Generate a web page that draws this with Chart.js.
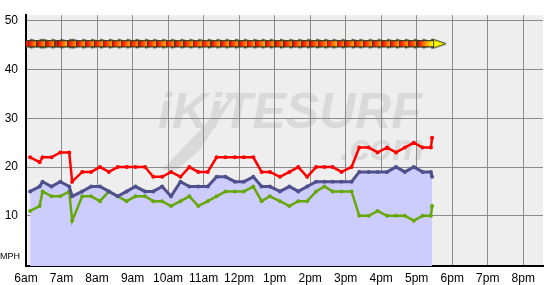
<!DOCTYPE html>
<html>
<head>
<meta charset="utf-8">
<script src="https://cdn.jsdelivr.net/npm/chart.js@4.4.1/dist/chart.umd.min.js"></script>
<style>
  html, body { margin: 0; padding: 0; background: #fff; }
</style>
</head>
<body>
<canvas id="wind" width="550" height="285"></canvas>
<script>
// observation times (local)
const times = ['6:07', '6:23', '6:28', '6:43', '6:58', '7:13', '7:18', '7:35', '7:50', '8:05',
  '8:20', '8:35', '8:50', '9:05', '9:21', '9:35', '9:50', '10:05', '10:21', '10:36',
  '10:51', '11:07', '11:22', '11:37', '11:53', '12:08', '12:24', '12:38', '12:52', '13:09',
  '13:25', '13:40', '13:55', '14:10', '14:24', '14:38', '14:53', '15:10', '15:23', '15:39',
  '15:54', '16:10', '16:25', '16:40', '16:55', '17:10', '17:24', '17:26'];

// mph
const gust = [22, 21, 22, 22, 23, 23, 17, 19, 19, 20,
  19, 20, 20, 20, 20, 18, 18, 19, 18, 20,
  19, 19, 22, 22, 22, 22, 22, 19, 19, 18,
  19, 20, 18, 20, 20, 20, 19, 20, 24, 24,
  23, 24, 23, 24, 25, 24, 24, 26];
const avg = [15, 16, 17, 16, 17, 16, 14, 15, 16, 16,
  15, 14, 15, 16, 15, 15, 16, 14, 17, 16,
  16, 16, 18, 18, 17, 17, 18, 16, 16, 15,
  16, 15, 16, 17, 17, 17, 17, 17, 19, 19,
  19, 19, 20, 19, 20, 19, 19, 18];
const lull = [11, 12, 15, 14, 14, 15, 9, 14, 14, 13,
  15, 14, 13, 14, 14, 13, 13, 12, 13, 14,
  12, 13, 14, 15, 15, 15, 16, 13, 14, 13,
  12, 13, 13, 15, 16, 15, 15, 15, 10, 10,
  11, 10, 10, 10, 9, 10, 10, 12];

const hourTicks = [6, 7, 8, 9, 10, 11, 12, 13, 14, 15, 16, 17, 18, 19, 20];
const hourLabels = ['6am', '7am', '8am', '9am', '10am', '11am', '12pm', '1pm', '2pm', '3pm', '4pm', '5pm', '6pm', '7pm', '8pm'];
const mphTicks = [10, 20, 30, 40, 50];
const DIR_ROW = 45.3;

const RED = '#ff0000';
const BLUE = '#50508c';
const GREEN = '#66a80a';
const FILL = '#ccccff';

const toHour = s => {
  const [h, m] = s.split(':').map(Number);
  return h + m / 60;
};
const pts = values => times.map((t, i) => ({ x: toHour(t), y: values[i] }));

// small wind-direction arrow, used as point image
const makeArrow = () => {
  const c = document.createElement('canvas');
  c.width = 30;
  c.height = 13;
  const g = c.getContext('2d');
  g.lineWidth = 1;
  g.strokeStyle = '#3c3c28';
  g.fillStyle = '#ffff00';
  g.beginPath();
  g.moveTo(15.5, 2);
  g.lineTo(29, 6.5);
  g.lineTo(15.5, 11);
  g.closePath();
  g.fill();
  g.stroke();
  const grad = g.createLinearGradient(1, 0, 16, 0);
  grad.addColorStop(0, '#ff0000');
  grad.addColorStop(0.5, '#ff9a00');
  grad.addColorStop(1, '#ffff00');
  g.fillStyle = grad;
  g.fillRect(1, 4, 15, 5);
  g.strokeRect(0.5, 3.5, 16, 6);
  return c;
};

const backdrop = {
  id: 'backdrop',
  beforeDraw(chart) {
    const { ctx, chartArea: a } = chart;
    ctx.save();
    ctx.fillStyle = '#eeeeee';
    ctx.fillRect(a.left, a.top, a.right - a.left, a.bottom - a.top);
    ctx.beginPath();
    ctx.rect(a.left, a.top, a.right - a.left, a.bottom - a.top);
    ctx.clip();
    ctx.fillStyle = '#d9d9d9';
    ctx.beginPath();
    ctx.moveTo(162, 170);
    ctx.lineTo(238, 90);
    ctx.lineTo(200, 150);
    ctx.lineTo(176, 170);
    ctx.closePath();
    ctx.fill();
    ctx.font = 'italic bold 50px "Liberation Sans"';
    ctx.textBaseline = 'alphabetic';
    ctx.fillText('iKiTESURF', 158, 128);
    ctx.font = 'italic bold 36px "Liberation Sans"';
    ctx.fillText('.com', 340, 160);
    ctx.restore();
  },
  afterDraw(chart) {
    const { ctx } = chart;
    ctx.save();
    ctx.fillStyle = '#000';
    ctx.font = '9px "Liberation Sans"';
    ctx.textBaseline = 'middle';
    ctx.textAlign = 'left';
    ctx.fillText('MPH', 0, 257);
    ctx.restore();
  },
};

Chart.defaults.font.family = '"Liberation Sans", Arial, sans-serif';
Chart.defaults.font.size = 12;
Chart.defaults.color = '#000';

new Chart(document.getElementById('wind'), {
  type: 'line',
  data: {
    datasets: [
      {
        label: 'Direction',
        data: times.map(t => ({ x: toHour(t), y: DIR_ROW })),
        showLine: false,
        pointStyle: makeArrow(),
        pointRadius: 6,
        clip: 0,
      },
      {
        label: 'Gust',
        data: pts(gust),
        borderColor: RED,
        backgroundColor: RED,
        borderWidth: 2.5,
        pointRadius: 2,
        pointBorderWidth: 0,
        tension: 0,
      },
      {
        label: 'Average',
        data: pts(avg),
        borderColor: BLUE,
        backgroundColor: FILL,
        pointBackgroundColor: BLUE,
        borderWidth: 3,
        pointRadius: 2,
        pointBorderWidth: 0,
        fill: 'start',
        tension: 0,
      },
      {
        label: 'Lull',
        data: pts(lull),
        borderColor: GREEN,
        backgroundColor: GREEN,
        borderWidth: 2.5,
        pointRadius: 2,
        pointBorderWidth: 0,
        tension: 0,
      },
    ],
  },
  options: {
    responsive: false,
    animation: false,
    devicePixelRatio: 1,
    layout: { padding: 0 },
    plugins: {
      legend: { display: false },
      tooltip: { enabled: false },
      filler: { drawTime: 'beforeDatasetsDraw' },
    },
    scales: {
      x: {
        type: 'linear',
        min: 6,
        max: 20.556,
        afterBuildTicks: s => { s.ticks = hourTicks.map(v => ({ value: v })); },
        afterFit: s => { s.height = 19; },
        ticks: {
          autoSkip: false,
          maxRotation: 0,
          padding: 5,
          callback: (v, i) => hourLabels[i],
        },
        grid: { color: '#8c8c8c', lineWidth: 1, drawTicks: false },
        border: { color: '#000', width: 2 },
      },
      y: {
        min: -0.3,
        max: 51.15,
        afterBuildTicks: s => { s.ticks = mphTicks.map(v => ({ value: v })); },
        afterFit: s => { s.width = 26; },
        ticks: { padding: 8 },
        grid: { color: '#8c8c8c', lineWidth: 1, drawTicks: false },
        border: { color: '#000', width: 2 },
      },
    },
  },
  plugins: [backdrop],
});
</script>
</body>
</html>
